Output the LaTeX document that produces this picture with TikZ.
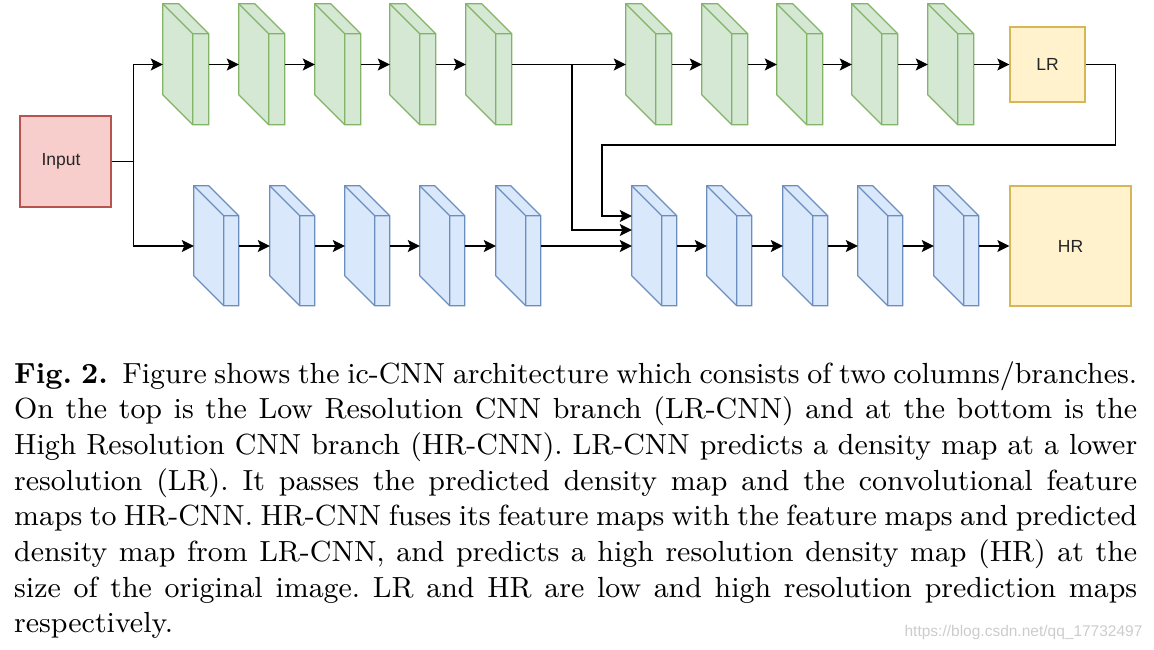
\documentclass[tikz,border=0pt]{standalone}
\usepackage{fontspec}
\usepackage{xcolor}
\usetikzlibrary{arrows.meta}
\newfontfamily\labelfont{Liberation Sans}
\newfontfamily\capfont[BoldFont=lmroman9-bold.otf]{lmroman9-regular.otf}
\definecolor{infill}{HTML}{F8CECC}
\definecolor{inline}{HTML}{B85450}
\definecolor{lrfill}{HTML}{D5E8D4}
\definecolor{lrline}{HTML}{82B366}
\definecolor{hrfill}{HTML}{DAE8FC}
\definecolor{hrline}{HTML}{6C8EBF}
\definecolor{mapfill}{HTML}{FFF2CC}
\definecolor{mapline}{HTML}{D6B656}
\tikzstyle{every node}=[font=\labelfont\fontsize{17.5}{21}\selectfont, text=black!85]
\tikzstyle{box} = [rectangle, draw, line width=1.3pt, inner sep=0pt]
\tikzstyle{lrslab} = [rectangle, minimum width=46pt, minimum height=121pt, inner sep=0pt]
\tikzstyle{hrslab} = [rectangle, minimum width=45pt, minimum height=120pt, inner sep=0pt]
\tikzstyle{lrface} = [draw=lrline, fill=lrfill, line width=1.3pt]
\tikzstyle{hrface} = [draw=hrline, fill=hrfill, line width=1.3pt]
\tikzstyle{caption} = [font=\capfont\fontsize{29.1}{35.7}\selectfont\frenchspacing, text=black, text width=1123pt, align=justify, inner sep=0pt]
\tikzstyle{line} = [draw, line width=1.5pt, -{Stealth[length=12pt, width=12pt, inset=2.5pt]}]

\begin{document}
\begin{tikzpicture}[x=1pt, y=-1pt]
    \useasboundingbox (0,0) rectangle (1154,650);
    % Place nodes
    \node [box, draw=inline, fill=infill, minimum size=91pt, text width=91pt, align=center] (input) at (65.5,161.5) {Input\hspace*{9pt}};
    \foreach \i/\x in {1/163, 2/239, 3/315, 4/390, 5/466, 6/626, 7/702, 8/777, 9/852, 10/928} {
        \node [lrslab] (lr\i) at (\x+23,64.5) {};
        \filldraw [lrface] (lr\i.north west) -- ++(16,0) -- ++(30,30) -- ++(0,91) -- ++(-16,0) -- ++(-30,-30) -- cycle;
        \draw [lrface, fill=none] (lr\i.north west) -- ++(30,30) -- ++(0,91) ++(0,-91) -- ++(16,0);
    }
    \foreach \i/\x in {1/194, 2/270, 3/345, 4/420, 5/496, 6/632, 7/707, 8/783, 9/858, 10/934} {
        \node [hrslab] (hr\i) at (\x+22.5,246) {};
        \filldraw [hrface] (hr\i.north west) -- ++(15,0) -- ++(30,30) -- ++(0,90) -- ++(-15,0) -- ++(-30,-30) -- cycle;
        \draw [hrface, fill=none] (hr\i.north west) -- ++(30,30) -- ++(0,90) ++(0,-90) -- ++(15,0);
    }
    \node [box, draw=mapline, fill=mapfill, minimum size=75pt] (lrmap) at (1047.5,64.5) {LR};
    \node [box, draw=mapline, fill=mapfill, minimum width=121pt, minimum height=120pt] (hrmap) at (1070.5,246) {HR};
    % Draw edges
    \path (input.east) ++(22,0) coordinate (split);
    \path (lr5.east) ++(60,0) coordinate (tap);
    \path (hr6.west) ++(-30,-101) coordinate (fb);
    \draw [line width=1.5pt] (input.east) -- (split);
    \path [line] (split) |- (lr1.west);
    \path [line] (split) |- (hr1.west);
    \foreach \a/\b in {1/2, 2/3, 3/4, 4/5, 5/6, 6/7, 7/8, 8/9, 9/10} {
        \path [line] (lr\a.east) -- (lr\b.west);
        \path [line] (hr\a.east) -- (hr\b.west);
    }
    \path [line] (lr10.east) -- (lrmap.west);
    \path [line] (hr10.east) -- (hrmap.west);
    \path [line] (tap) |- ([yshift=16pt]hr6.west);
    \path [line] (lrmap.east) -- ++(30,0) |- (fb) |- ([yshift=30pt]hr6.west);
    % Caption
    \node [caption, anchor=north west] (cap) at (14,361) {\textbf{Fig.~2.}\enspace Figure shows the ic-CNN architecture which consists of two columns/branches. On the top is the Low Resolution CNN branch (LR-CNN) and at the bottom is the High Resolution CNN branch (HR-CNN). LR-CNN predicts a density map at a lower resolution (LR). It passes the predicted density map and the convolutional feature maps to HR-CNN. HR-CNN fuses its feature maps with the feature maps and predicted density map from LR-CNN, and predicts a high resolution density map (HR) at the size of the original image. LR and HR are low and high resolution prediction maps respectively.};
    \node [font=\labelfont\fontsize{15.5}{18}\selectfont, text=black!20, anchor=east] (mark) at (1146,632) {https://blog.csdn.net/qq\_17732497};
\end{tikzpicture}
\end{document}
